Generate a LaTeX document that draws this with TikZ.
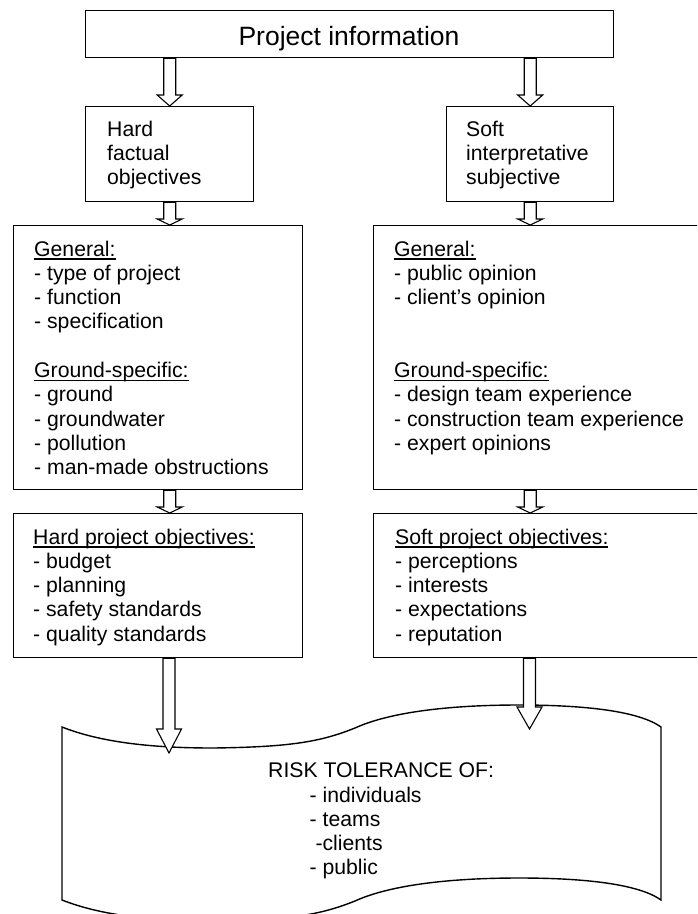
\documentclass[tikz,border=0pt]{standalone}
\usepackage{fontspec}
\setmainfont{Liberation Sans}
\usetikzlibrary{calc}

% underlined heading with a fixed rule just below the baseline
\newcommand\hdr[1]{\leavevmode\setbox0\hbox{#1}\rlap{\rule[-3.6pt]{\wd0}{1.4pt}}\box0}
% a block of left-aligned lines whose baseline is the first line
\newcommand\lines[1]{\parbox[t]{320pt}{\fontsize{21.2}{24.3}\selectfont\raggedright #1}}
% hollow block arrow: #1 start, #2 tip, #3 head length
\newcommand\hollowarrow[3]{%
  \path[hollow] let \p1=(#1), \p2=(#2) in
    (\x2-6pt,\y1) -- (\x2-6pt,\y2+#3) -- (\x2-12.5pt,\y2+#3) -- (\x2,\y2)
    -- (\x2+12.5pt,\y2+#3) -- (\x2+6pt,\y2+#3) -- (\x2+6pt,\y1) -- cycle;}

\tikzset{
  box/.style={draw, line width=1.4pt, inner sep=0pt, anchor=north west},
  txt/.style={inner sep=0pt, anchor=base west},
  hollow/.style={draw, fill=white, line width=1.1pt, line join=miter},
}

\begin{document}
\begin{tikzpicture}[x=1pt, y=-1pt]
\useasboundingbox (0,0) rectangle (697,914);
\clip (0,0) rectangle (697,914);

% boxes (the right-hand column runs past the page edge)
\node[box, minimum width=528pt, minimum height=47.5pt] (title) at (85,9.5) {};
\node[box, minimum width=168pt, minimum height=95pt] (hard) at (85,106) {};
\node[box, minimum width=167pt, minimum height=95pt] (soft) at (446,106) {};
\node[box, minimum width=289pt, minimum height=264pt] (genL) at (13,225) {};
\node[box, minimum width=340pt, minimum height=264pt] (genR) at (373,225) {};
\node[box, minimum width=289pt, minimum height=144pt] (objL) at (13,513) {};
\node[box, minimum width=340pt, minimum height=144pt] (objR) at (373,513) {};

% tape-shaped target
\draw[line width=1.4pt, fill=white]
  (62,727) .. controls (100,742) and (150,748) .. (213,748)
  .. controls (290,747) and (320,742) .. (355,728)
  .. controls (390,712) and (450,705) .. (519,705)
  .. controls (590,705) and (640,712) .. (661,727)
  -- (661,900)
  .. controls (640,885) and (590,878) .. (519,878)
  .. controls (450,878) and (390,885) .. (355,901)
  .. controls (320,915) and (290,920) .. (213,921)
  .. controls (150,921) and (100,915) .. (62,900) -- cycle;
\coordinate (tipL) at (169,753);
\coordinate (tipR) at (529.5,729);

% texts
\node[inner sep=0pt, anchor=base, font=\fontsize{26.5}{30}\selectfont] (ttl) at (349,45) {Project information};
\node[txt] (hardT) at (107,136) {\lines{Hard\\factual\\objectives}};
\node[txt] (softT) at (466,136) {\lines{Soft\\interpretative\\subjective}};
\node[txt] (genLT) at (34,256) {\lines{\hdr{General:}\\- type of project\\- function\\- specification\\[24.3pt]\hdr{Ground-specific:}\\- ground\\- groundwater\\- pollution\\- man-made obstructions}};
\node[txt] (genRT) at (394,256) {\lines{\hdr{General:}\\- public opinion\\- client’s opinion\\[48.6pt]\hdr{Ground-specific:}\\- design team experience\\- construction team experience\\- expert opinions}};
\node[txt] (objLT) at (33,544) {\lines{\hdr{Hard project objectives:}\\- budget\\- planning\\- safety standards\\- quality standards}};
\node[txt] (objRT) at (395,544) {\lines{\hdr{Soft project objectives:}\\- perceptions\\- interests\\- expectations\\- reputation}};
\node[txt] (riskT) at (268,777) {\lines{RISK TOLERANCE OF:}};
\node[txt] (riskL) at (309.5,802) {\lines{- individuals\\- teams\\\hspace*{5.8pt}-clients\\- public}};

% hollow arrows
\hollowarrow{title.south -| hard.north}{hard.north}{11pt}
\hollowarrow{title.south -| soft.north}{soft.north}{11pt}
\hollowarrow{hard.south}{genL.north -| hard.south}{6pt}
\hollowarrow{soft.south}{genR.north -| soft.south}{6pt}
\hollowarrow{genL.south -| hard.south}{objL.north -| hard.south}{6pt}
\hollowarrow{genR.south -| soft.south}{objR.north -| soft.south}{6pt}
\hollowarrow{objL.south -| tipL}{tipL}{24pt}
\hollowarrow{objR.south -| tipR}{tipR}{22pt}
\end{tikzpicture}
\end{document}
